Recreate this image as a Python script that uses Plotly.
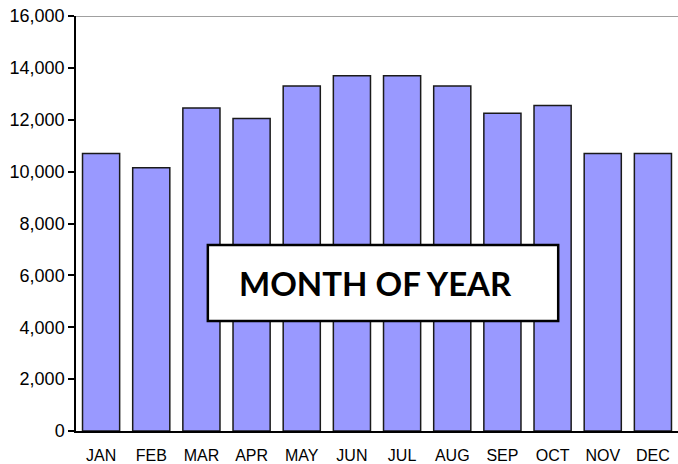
import plotly.graph_objects as go

months = ["JAN", "FEB", "MAR", "APR", "MAY", "JUN", "JUL", "AUG", "SEP", "OCT", "NOV", "DEC"]
values = [10700, 10150, 12450, 12050, 13300, 13700, 13700, 13300, 12250, 12550, 10700, 10700]
y_max = 16000
y_tick_step = 2000
label_text = "MONTH OF YEAR"

fig = go.Figure()
fig.add_trace(go.Bar(
    x=months, y=values,
    marker=dict(color="#9999FF", line=dict(color="#1a1a1a", width=1.5)),
))

fig.update_layout(
    width=678, height=464,
    margin=dict(l=76, r=0, t=16, b=33),
    paper_bgcolor="white", plot_bgcolor="white",
    bargap=0.26,
    showlegend=False,
    font=dict(family="Liberation Sans, Arial, sans-serif", color="black"),
    xaxis=dict(
        range=[-0.5, 11.5], automargin=False,
        showline=True, linecolor="black", linewidth=1.5,
        ticks="", showgrid=False,
        tickfont=dict(size=16), ticklabelstandoff=9,
    ),
    yaxis=dict(
        range=[0, y_max], dtick=y_tick_step, tick0=0, automargin=False,
        tickformat=",",
        showline=True, linecolor="black", linewidth=1.5,
        ticks="outside", ticklen=6, tickcolor="black", tickwidth=1.5,
        showgrid=False, zeroline=False,
        tickfont=dict(size=18),
    ),
)

fig.add_shape(type="line", xref="paper", yref="y", x0=0, x1=1, y0=y_max, y1=y_max,
              line=dict(color="#a0a0a0", width=2))

fig.add_shape(type="rect", xref="paper", yref="paper", x0=0.219, x1=0.801, y0=0.265, y1=0.448,
              fillcolor="white", line=dict(color="black", width=2.5), layer="above")
fig.add_annotation(xref="paper", yref="paper", x=0.498, y=0.357, text="<b>" + label_text + "</b>",
                   showarrow=False, font=dict(family="Lato, Open Sans, sans-serif", size=33, color="black"))

fig.write_html("out.html", config={"displayModeBar": False},
               post_script="document.body.style.margin='0';document.body.style.overflow='hidden';")
